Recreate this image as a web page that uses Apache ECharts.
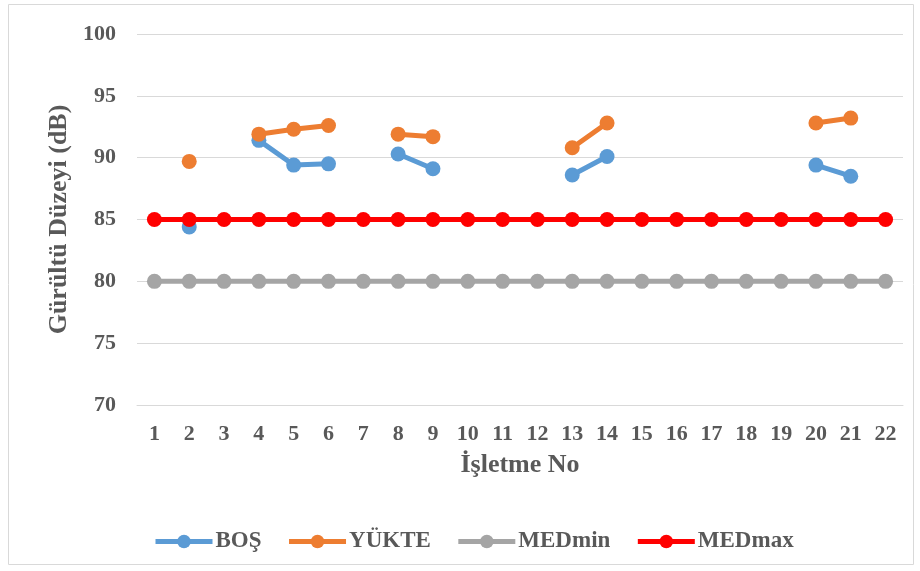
<!DOCTYPE html>
<html><head><meta charset="utf-8">
<script src="https://cdn.jsdelivr.net/npm/echarts@6/dist/echarts.min.js"></script>
<style>html,body{margin:0;padding:0;background:#fff}#c{width:920px;height:571px}</style>
</head><body><div id="c"></div>
<script>
const categories = ['1','2','3','4','5','6','7','8','9','10','11','12','13','14','15','16','17','18','19','20','21','22'];
const bos   = [null,84.4,null,91.4,89.4,89.5,null,90.3,89.1,null,null,null,88.6,90.1,null,null,null,null,null,89.4,88.5,null];
const yukte = [null,89.7,null,91.9,92.3,92.6,null,91.9,91.7,null,null,null,90.8,92.8,null,null,null,null,null,92.8,93.2,null];
const medMin = [80,80,80,80,80,80,80,80,80,80,80,80,80,80,80,80,80,80,80,80,80,80];
const medMax = [85,85,85,85,85,85,85,85,85,85,85,85,85,85,85,85,85,85,85,85,85,85];
const seriesNames = ['BOŞ','YÜKTE','MEDmin','MEDmax'];
const colors = ['#5b9bd5','#ed7d31','#a5a5a5','#ff0000'];

const chart = echarts.init(document.getElementById('c'));
const font = '"Liberation Serif","Times New Roman",serif';
const mk = (name, data, color) => ({
  name, type:'line', data, connectNulls:false,
  symbol:'circle', symbolSize:15,
  itemStyle:{color},
  lineStyle:{color, width:5},
  emphasis:{disabled:true}, animation:false
});
chart.setOption({
  animation:false,
  graphic:[{type:'rect', shape:{x:8.5,y:4.5,width:905,height:560}, style:{fill:'none',stroke:'#d9d9d9',lineWidth:1}, silent:true}],
  grid:{left:137, right:17, top:34, bottom:166},
  xAxis:{
    type:'category', data:categories, boundaryGap:true,
    name:'İşletme No', nameLocation:'middle', nameGap:47,
    nameTextStyle:{fontFamily:font, fontWeight:'bold', fontSize:26, color:'#595959'},
    axisLine:{lineStyle:{color:'#d9d9d9', width:1}},
    axisTick:{show:false},
    axisLabel:{fontFamily:font, fontWeight:'bold', fontSize:22, color:'#595959', margin:18}
  },
  yAxis:{
    type:'value', min:70, max:100, interval:5,
    name:'Gürültü Düzeyi (dB)', nameLocation:'middle', nameGap:51, nameRotate:90,
    nameTextStyle:{fontFamily:font, fontWeight:'bold', fontSize:26, color:'#595959'},
    axisLine:{show:false}, axisTick:{show:false},
    axisLabel:{fontFamily:font, fontWeight:'bold', fontSize:22, color:'#595959', margin:21},
    splitLine:{lineStyle:{color:'#d9d9d9', width:1}}
  },
  legend:{
    top:525, left:148, itemWidth:57, itemHeight:17, itemGap:25,
    lineStyle:{width:5},
    textStyle:{fontFamily:font, fontWeight:'bold', fontSize:23, color:'#595959', padding:[0,0,0,-2]},
    data:seriesNames
  },
  series:[
    mk(seriesNames[0], bos, colors[0]),
    mk(seriesNames[1], yukte, colors[1]),
    mk(seriesNames[2], medMin, colors[2]),
    mk(seriesNames[3], medMax, colors[3])
  ]
});
</script></body></html>
